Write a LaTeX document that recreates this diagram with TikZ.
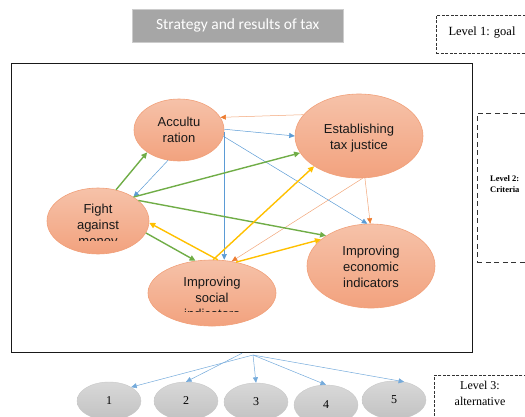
\documentclass[tikz,border=0pt]{standalone}
\usepackage{fontspec}
\setmainfont{Liberation Serif}
\newfontfamily\critfont{Liberation Sans}
\newfontfamily\titlefont{Carlito}
\usetikzlibrary{shapes.geometric,arrows.meta,calc}

\definecolor{critTop}{HTML}{F6C2A9}
\definecolor{critBot}{HTML}{F2A27E}
\definecolor{critLine}{HTML}{F1A079}
\definecolor{altTop}{HTML}{D8D8D8}
\definecolor{altBot}{HTML}{C2C2C2}
\definecolor{titleFill}{HTML}{A6A6A6}
\definecolor{orangeLine}{HTML}{F2A679}
\definecolor{orangeHead}{HTML}{ED7D31}
\definecolor{blueLine}{HTML}{5B9BD5}
\definecolor{greenLine}{HTML}{70AD47}
\definecolor{yellowLine}{HTML}{FFC000}

\tikzset{
  crit/.style={ellipse, shade, top color=critTop, bottom color=critBot,
    draw=critLine, line width=0.6pt, inner sep=0pt},
  crittext/.style={font=\critfont\fontsize{13}{15.7}\selectfont, align=center,
    inner sep=0pt, text=black!90},
  alt/.style={ellipse, shade, top color=altTop, bottom color=altBot,
    draw=altBot!90, line width=0.4pt, inner sep=0pt,
    minimum width=64pt, minimum height=38pt,
    font=\fontsize{12}{14}\selectfont},
  lvlbox/.style={draw=black!80, line width=0.8pt, dash pattern=on 3pt off 1.5pt,
    inner sep=0pt, anchor=north west},
  lvltext/.style={font=\fontsize{12.5}{15.5}\selectfont, align=center, inner sep=0pt},
  thintip/.style={-{Triangle[length=5.5pt,width=5pt]}},
  orangeArrow/.style={draw=orangeLine, line width=0.5pt,
    -{Triangle[length=5.5pt,width=5pt,color=orangeHead]}},
  blueArrow/.style={draw=blueLine, line width=0.5pt, thintip},
  greenArrow/.style={draw=greenLine, line width=1.4pt,
    -{Triangle[length=6pt,width=5.5pt]}},
  yellowArrow/.style={draw=yellowLine, line width=1.4pt,
    -{Triangle[length=6pt,width=5.5pt]}},
  altArrow/.style={draw=blueLine!85, line width=0.5pt, thintip},
}

\begin{document}
\begin{tikzpicture}[x=1pt, y=-1pt]
\useasboundingbox (0,0) rectangle (525,416);

% ---- goal ----
\node[fill=titleFill, draw=black!20, line width=0.5pt, anchor=north west,
      minimum width=211pt, minimum height=33pt, inner sep=0pt,
      text=white, font=\titlefont\fontsize{15.5}{18}\selectfont]
      (goal) at (132,9) {Strategy and results of tax};

\node[lvlbox, minimum width=100pt, minimum height=38pt] (lvl1box) at (436,15) {};
\node[lvltext] (lvl1) at (482,33) {Level 1: goal};

% ---- criteria frame ----
\node[draw=black!90, line width=1.2pt, anchor=north west, inner sep=0pt,
      minimum width=461pt, minimum height=289pt] (frame) at (11,63) {};

\node[draw=black!80, line width=0.8pt, dash pattern=on 5pt off 3.5pt,
      inner sep=0pt, anchor=north west, minimum width=60pt, minimum height=149pt]
      (lvl2box) at (477,113) {};
\node[font=\bfseries\fontsize{8.5}{11}\selectfont, align=left, inner sep=0pt,
      anchor=west] (lvl2) at (490,184) {Level 2:\\Criteria};

% ---- criteria ----
\node[crit, minimum width=90pt, minimum height=62pt]  (acc)   at (179,130) {};
\node[crit, minimum width=128pt, minimum height=84pt] (est)   at (359,136) {};
\node[crit, minimum width=102pt, minimum height=66pt] (fight) at (98,221) {};
\node[crit, minimum width=128pt, minimum height=66pt] (soc)   at (212,293) {};
\node[crit, minimum width=128pt, minimum height=84pt] (eco)   at (371,266) {};

\node[crittext] (acclbl) at (179,130) {Accultu\\ration};
\node[crittext] (estlbl) at (359,138) {Establishing\\tax justice};
\node[crittext] (ecolbl) at (371,267) {Improving\\economic\\indicators};
\begin{scope}
  \clip (40,150) rectangle (160,240.5);
  \node[crittext] (fightlbl) at (98,226) {Fight\\against\\money};
\end{scope}
\begin{scope}
  \clip (140,255) rectangle (290,311);
  \node[crittext] (soclbl) at (212,298) {Improving\\social\\indicators};
\end{scope}

% ---- influences: from tax justice (orange) ----
\draw[orangeArrow] (est.159) -- (acc.17);
\draw[orangeArrow] (est.-82) -- (eco.91);
\draw[orangeArrow] (est.-85) -- (soc.58);

% ---- from acculturation (blue) ----
\draw[blueArrow] (acc.1) -- (est.180);
\draw[blueArrow] (acc.-8) -- (eco.95);
\draw[blueArrow] (acc.-2.5) -- (acc.-2.5 |- soc.north);
\draw[blueArrow] (acc.-110) -- (fight.34);

% ---- from fight against money (green) ----
\draw[greenArrow] (fight.60) -- (acc.-145);
\draw[greenArrow] (fight.34) -- (est.-164);
\draw[greenArrow] (fight.27) -- (eco.146);
\draw[greenArrow] (fight.-14) -- (soc.117);

% ---- from social indicators (yellow) ----
\draw[yellowArrow] (soc.88) -- (est.-146);
\draw[yellowArrow] (soc.80) -- (fight.-2);
\draw[yellowArrow] (soc.52) -- (eco.152);

% ---- alternatives ----
\node[alt] (alt1) at (109,401) {1};
\node[alt] (alt2) at (186,401) {2};
\node[alt] (alt3) at (256,402) {3};
\node[alt, minimum height=40pt] (alt4) at (326,405) {4};
\node[alt] (alt5) at (394,400) {5};

\coordinate (hub) at (253,355);
\draw[altArrow] (hub) -- (alt1.32);
\draw[altArrow] (frame.south) -- (alt2.north);
\draw[altArrow] (hub) -- (alt3.north);
\draw[altArrow] (hub) -- (alt4.north);
\draw[altArrow] (hub) -- (alt5.61);

\node[lvlbox, minimum width=100pt, minimum height=50pt] (lvl3box) at (434,375) {};
\node[lvltext, font=\fontsize{12}{16}\selectfont] (lvl3) at (480,393) {Level 3:\\alternative};
\end{tikzpicture}
\end{document}
